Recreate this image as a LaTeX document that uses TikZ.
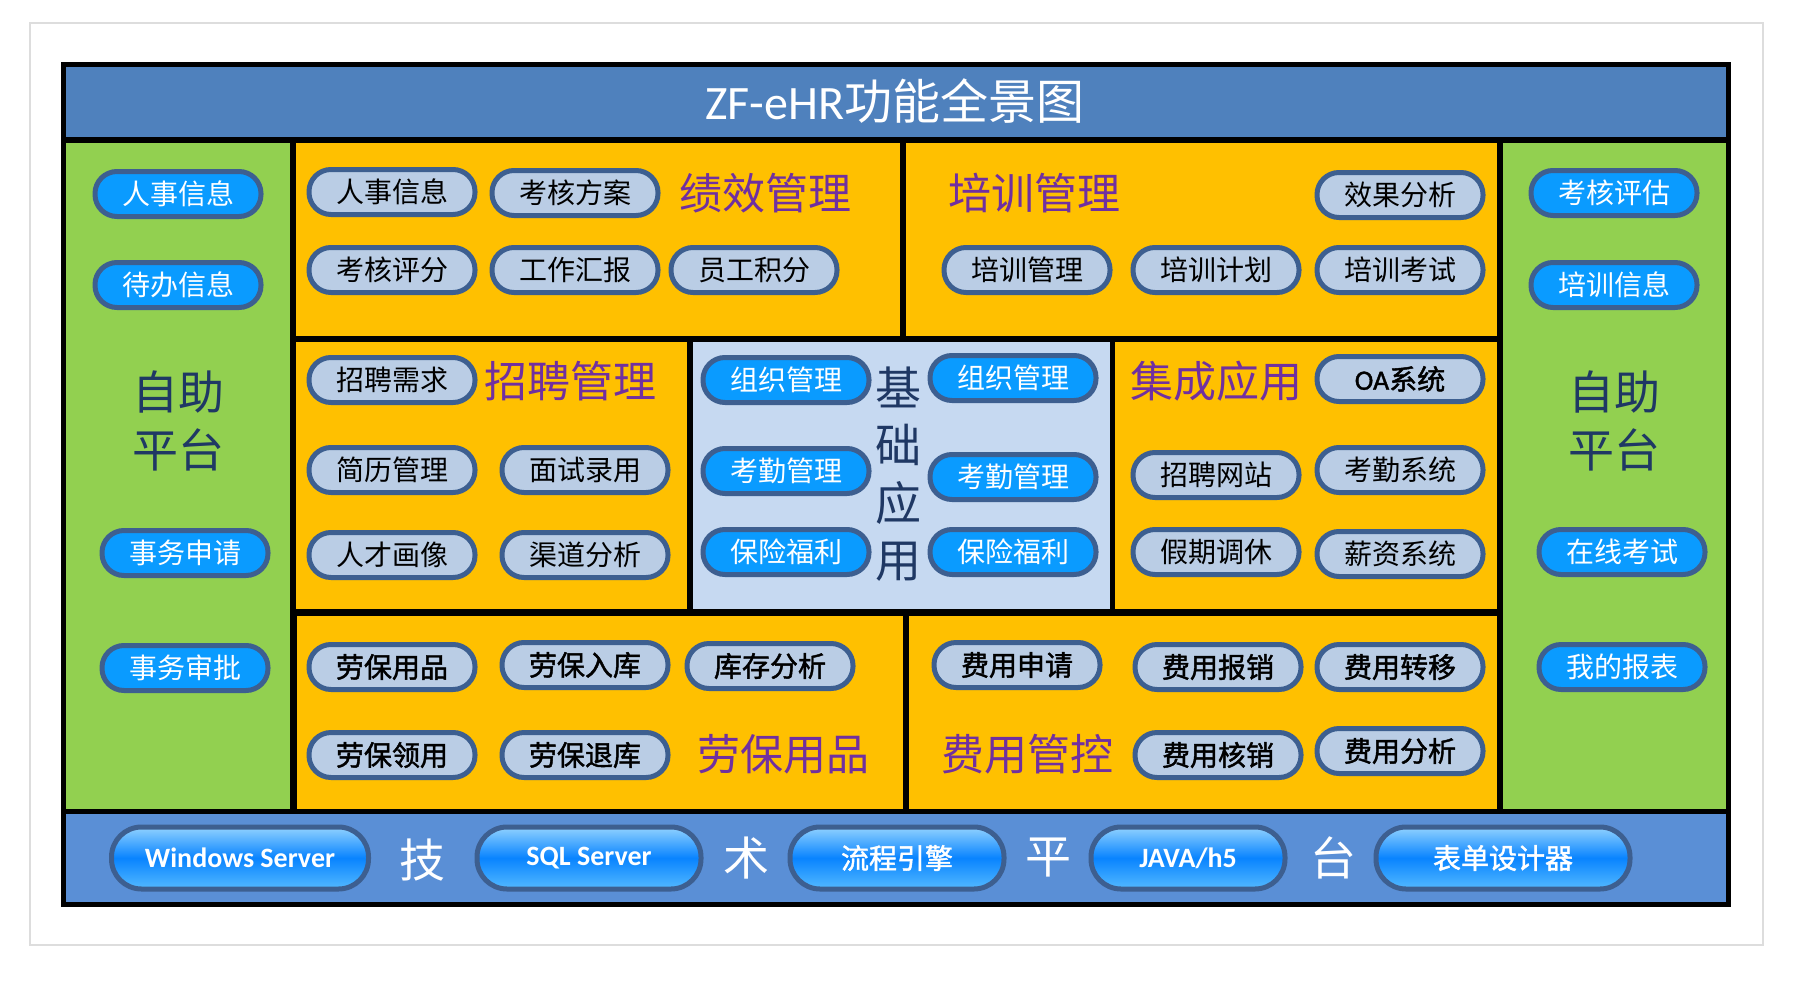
\documentclass[tikz,border=0pt]{standalone}
\usepackage{fontspec}
\setmainfont{Carlito}
\newfontfamily\cjk{Noto Sans CJK SC}
\newfontfamily\cjkm[FakeBold=1.6]{Noto Sans CJK SC}
\newfontfamily\lat{Carlito}
\newfontfamily\latb[FakeBold=1.2]{Carlito}
\definecolor{titleblue}{HTML}{4F81BD}
\definecolor{barblue}{HTML}{5A8FD6}
\definecolor{greenp}{HTML}{92D050}
\definecolor{orangep}{HTML}{FFC000}
\definecolor{lightp}{HTML}{C6D9F1}
\definecolor{graypill}{HTML}{BACDE5}
\definecolor{pillborder}{HTML}{3D5F90}
\definecolor{brightblue}{HTML}{0A9BFF}
\definecolor{purplet}{HTML}{7030A0}
\definecolor{darkbluet}{HTML}{1F3864}
\definecolor{outergray}{HTML}{DDDDDD}
\tikzset{
  gpill/.style={draw=pillborder, line width=5pt, fill=graypill, rounded corners=22pt,
    minimum width=166pt, minimum height=45pt, inner sep=0pt, text=black,
    font=\cjk\fontsize{28}{30}\selectfont},
  gbpill/.style={gpill, font=\cjkm\fontsize{28}{30}\selectfont},
  bpill/.style={gpill, fill=brightblue, text=white},
  tpill/.style={draw=pillborder, line width=5pt, rounded corners=30pt,
    minimum height=62pt, inner sep=0pt, text=white,
    top color=brightblue!45!white, bottom color=brightblue!70!white, middle color=brightblue!85!blue,
    font=\bfseries\fontsize{28}{30}\selectfont},
  ptitle/.style={text=purplet, inner sep=0pt, font=\cjk\fontsize{43}{46}\selectfont},
  bigdark/.style={text=darkbluet, inner sep=0pt, font=\cjk\fontsize{46}{58}\selectfont, align=center},
  tech/.style={text=white, inner sep=0pt, font=\cjk\fontsize{46}{50}\selectfont},
}
\begin{document}
\begin{tikzpicture}[x=1pt,y=-1pt]
\useasboundingbox (0,0) rectangle (1801,980);
\fill[white] (0,0) rectangle (1801,980);
\draw[outergray, line width=2pt] (30,23) rectangle (1763,945);
% black frame
\fill[black] (61,62) rectangle (1731,907);
% panels
\fill[titleblue] (66,67) rectangle (1726,137);
\fill[greenp] (66,143) rectangle (290,809);
\fill[orangep] (296,143) rectangle (900,336);
\fill[orangep] (906,143) rectangle (1497,336);
\fill[greenp] (1503,143) rectangle (1726,809);
\fill[orangep] (296,342) rectangle (687,609);
\fill[lightp] (693,342) rectangle (1110,609);
\fill[orangep] (1115,342) rectangle (1497,609);
\fill[orangep] (297,616) rectangle (903,809);
\fill[orangep] (909,616) rectangle (1497,809);
\fill[barblue] (66,814) rectangle (1726,902);
% title
\node[text=white, inner sep=0pt, font=\fontsize{48}{52}\selectfont] (title) at (895,101) {\lat ZF-eHR\cjk 功能全景图};
% left self-service
\node[bpill] (l1) at (178,194) {人事信息};
\node[bpill] (l2) at (178,285) {待办信息};
\node[bigdark] (lself) at (178,421) {自助\\平台};
\node[bpill] (l3) at (185,553) {事务申请};
\node[bpill] (l4) at (185,668) {事务审批};
% right self-service
\node[bpill] (r1) at (1614,193) {考核评估};
\node[bpill] (r2) at (1614,285) {培训信息};
\node[bigdark] (rself) at (1614,421) {自助\\平台};
\node[bpill] (r3) at (1622,552) {在线考试};
\node[bpill] (r4) at (1622,667) {我的报表};
% performance
\node[gpill] (p1) at (392,192) {人事信息};
\node[gpill] (p2) at (575,193) {考核方案};
\node[ptitle] (pt) at (765,193) {绩效管理};
\node[gpill] (p3) at (392,270) {考核评分};
\node[gpill] (p4) at (575,270) {工作汇报};
\node[gpill] (p5) at (754,270) {员工积分};
% training
\node[ptitle] (tt) at (1034,193) {培训管理};
\node[gpill] (t1) at (1400,195) {效果分析};
\node[gpill] (t2) at (1027,270) {培训管理};
\node[gpill] (t3) at (1216,270) {培训计划};
\node[gpill] (t4) at (1400,270) {培训考试};
% recruiting
\node[gpill] (z1) at (392,380) {招聘需求};
\node[ptitle] (zt) at (570,381) {招聘管理};
\node[gpill] (z2) at (392,470) {简历管理};
\node[gpill] (z3) at (585,470) {面试录用};
\node[gpill] (z4) at (392,555) {人才画像};
\node[gpill] (z5) at (585,555) {渠道分析};
% basic
\node[bpill] (b1) at (786,380) {组织管理};
\node[bpill] (b2) at (786,471) {考勤管理};
\node[bpill] (b3) at (786,552) {保险福利};
\node[bpill] (b4) at (1013,378) {组织管理};
\node[bpill] (b5) at (1013,477) {考勤管理};
\node[bpill] (b6) at (1013,552) {保险福利};
\node[bigdark] (bt1) at (898,387) {基};
\node[bigdark] (bt2) at (898,445) {础};
\node[bigdark] (bt3) at (898,503) {应};
\node[bigdark] (bt4) at (898,562) {用};
% integration
\node[ptitle] (it) at (1216,381) {集成应用};
\node[gbpill] (i1) at (1400,379) {\latb OA\cjkm 系统};
\node[gpill] (i2) at (1216,475) {招聘网站};
\node[gpill] (i3) at (1400,470) {考勤系统};
\node[gpill] (i4) at (1216,552) {假期调休};
\node[gpill] (i5) at (1400,554) {薪资系统};
% labour protection
\node[gbpill] (a1) at (392,667) {劳保用品};
\node[gbpill] (a2) at (585,665) {劳保入库};
\node[gbpill] (a3) at (770,666) {库存分析};
\node[gbpill] (a4) at (392,755) {劳保领用};
\node[gbpill] (a5) at (585,755) {劳保退库};
\node[ptitle] (at) at (783,754) {劳保用品};
% expenses
\node[gbpill] (f1) at (1017,665) {费用申请};
\node[gbpill] (f2) at (1218,667) {费用报销};
\node[gbpill] (f3) at (1400,667) {费用转移};
\node[ptitle] (ft) at (1027,754) {费用管控};
\node[gbpill] (f4) at (1218,755) {费用核销};
\node[gbpill] (f5) at (1400,751) {费用分析};
% technical platform
\node[tpill, minimum width=257pt] (k1) at (240,858) {Windows Server};
\node[tech] (kc1) at (422,860) {技};
\node[tpill, minimum width=224pt] (k2) at (589,858) {SQL Server};
\node[tech] (kc2) at (746,858) {术};
\node[tpill, minimum width=214pt, font=\cjkm\fontsize{28}{30}\selectfont] (k3) at (897,858) {流程引擎};
\node[tech] (kc3) at (1048,858) {平};
\node[tpill, minimum width=194pt] (k4) at (1188,858) {JAVA/h5};
\node[tech] (kc4) at (1333,858) {台};
\node[tpill, minimum width=254pt, font=\cjkm\fontsize{28}{30}\selectfont] (k5) at (1503,858) {表单设计器};
\end{tikzpicture}
\end{document}
